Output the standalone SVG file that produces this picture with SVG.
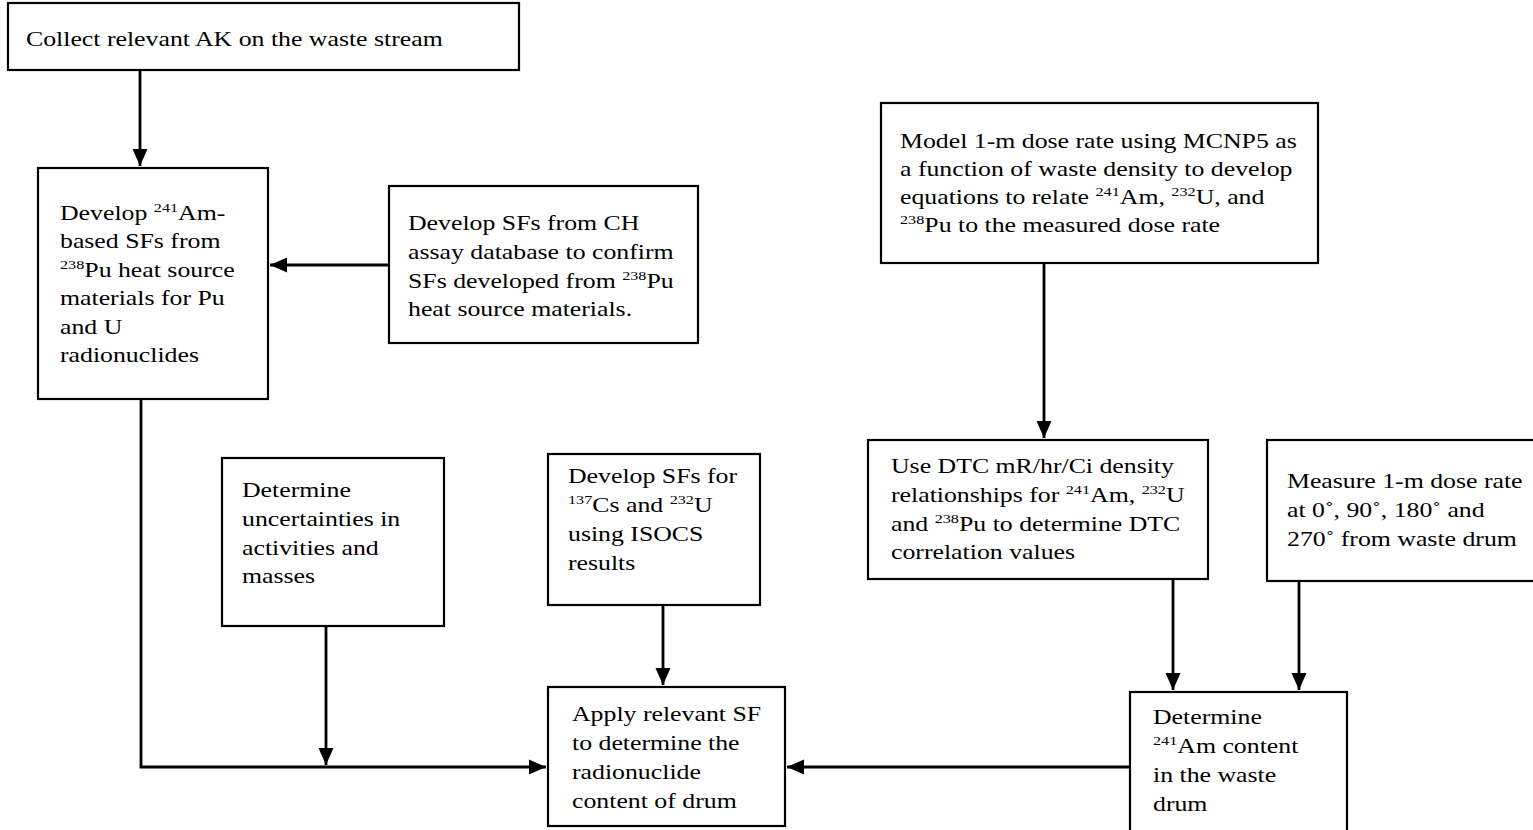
<svg xmlns="http://www.w3.org/2000/svg" width="1533" height="830" viewBox="0 0 1533 830">
<style>
.box{fill:#fff;stroke:#000;stroke-width:2.2}
.t{font-family:"Liberation Serif","Times New Roman",serif;font-size:21.5px;fill:#000}
.sup{font-size:13.5px}
.c{fill:none;stroke:#000;stroke-width:2.8}
</style>
<defs>
<marker id="ah" markerUnits="userSpaceOnUse" markerWidth="18" markerHeight="16" refX="17" refY="8" orient="auto">
<path d="M0,0.5 L17,8 L0,15.5 z" fill="#000"/>
</marker>
</defs>
<rect width="1533" height="830" fill="#fff"/>
<g id="connectors">
<path class="c" d="M140,70 V166" marker-end="url(#ah)"/>
<path class="c" d="M389,265 H270" marker-end="url(#ah)"/>
<path class="c" d="M1044,263 V438" marker-end="url(#ah)"/>
<path class="c" d="M1173,579 V690" marker-end="url(#ah)"/>
<path class="c" d="M1299,581 V690" marker-end="url(#ah)"/>
<path class="c" d="M141,399 V767 H546" marker-end="url(#ah)"/>
<path class="c" d="M326,626 V765" marker-end="url(#ah)"/>
<path class="c" d="M663,605 V685" marker-end="url(#ah)"/>
<path class="c" d="M1130,767 H787" marker-end="url(#ah)"/>
</g>
<g id="n1">
<rect class="box" x="8" y="3" width="511" height="67"/>
<text class="t" transform="translate(26 46) scale(1.2 1)"><tspan x="0" y="0">Collect relevant AK on the waste stream</tspan></text>
</g>
<g id="n2">
<rect class="box" x="38" y="168" width="230" height="231"/>
<text class="t" transform="translate(60 220) scale(1.2 1)">
<tspan x="0" y="0">Develop <tspan class="sup" dy="-8">241</tspan><tspan dy="8">Am-</tspan></tspan>
<tspan x="0" y="28.5">based SFs from</tspan>
<tspan x="0" y="57"><tspan class="sup" dy="-8">238</tspan><tspan dy="8">Pu heat source</tspan></tspan>
<tspan x="0" y="85.5">materials for Pu</tspan>
<tspan x="0" y="114">and U</tspan>
<tspan x="0" y="142.5">radionuclides</tspan>
</text>
</g>
<g id="n3">
<rect class="box" x="389" y="186" width="309" height="157"/>
<text class="t" transform="translate(408 230) scale(1.2 1)">
<tspan x="0" y="0">Develop SFs from CH</tspan>
<tspan x="0" y="28.8">assay database to confirm</tspan>
<tspan x="0" y="57.6">SFs developed from <tspan class="sup" dy="-8">238</tspan><tspan dy="8">Pu</tspan></tspan>
<tspan x="0" y="86.4">heat source materials.</tspan>
</text>
</g>
<g id="n4">
<rect class="box" x="881" y="103" width="437" height="160"/>
<text class="t" transform="translate(900 148) scale(1.2 1)">
<tspan x="0" y="0">Model 1-m dose rate using MCNP5 as</tspan>
<tspan x="0" y="28">a function of waste density to develop</tspan>
<tspan x="0" y="56">equations to relate <tspan class="sup" dy="-8">241</tspan><tspan dy="8">Am, </tspan><tspan class="sup" dy="-8">232</tspan><tspan dy="8">U, and</tspan></tspan>
<tspan x="0" y="84"><tspan class="sup" dy="-8">238</tspan><tspan dy="8">Pu to the measured dose rate</tspan></tspan>
</text>
</g>
<g id="n5">
<rect class="box" x="868" y="440" width="340" height="139"/>
<text class="t" transform="translate(891 473) scale(1.2 1)">
<tspan x="0" y="0">Use DTC mR/hr/Ci density</tspan>
<tspan x="0" y="28.8">relationships for <tspan class="sup" dy="-8">241</tspan><tspan dy="8">Am, </tspan><tspan class="sup" dy="-8">232</tspan><tspan dy="8">U</tspan></tspan>
<tspan x="0" y="57.6">and <tspan class="sup" dy="-8">238</tspan><tspan dy="8">Pu to determine DTC</tspan></tspan>
<tspan x="0" y="86.4">correlation values</tspan>
</text>
</g>
<g id="n6">
<rect class="box" x="1267" y="440" width="280" height="141"/>
<text class="t" transform="translate(1287 488) scale(1.2 1)">
<tspan x="0" y="0">Measure 1-m dose rate</tspan>
<tspan x="0" y="28.8">at 0˚, 90˚, 180˚ and</tspan>
<tspan x="0" y="57.6">270˚ from waste drum</tspan>
</text>
</g>
<g id="n7">
<rect class="box" x="1130" y="692" width="217" height="150"/>
<text class="t" transform="translate(1153 724) scale(1.2 1)">
<tspan x="0" y="0">Determine</tspan>
<tspan x="0" y="29"><tspan class="sup" dy="-8">241</tspan><tspan dy="8">Am content</tspan></tspan>
<tspan x="0" y="58">in the waste</tspan>
<tspan x="0" y="87">drum</tspan>
</text>
</g>
<g id="n8">
<rect class="box" x="222" y="458" width="222" height="168"/>
<text class="t" transform="translate(242 497) scale(1.2 1)">
<tspan x="0" y="0">Determine</tspan>
<tspan x="0" y="28.8">uncertainties in</tspan>
<tspan x="0" y="57.6">activities and</tspan>
<tspan x="0" y="86.4">masses</tspan>
</text>
</g>
<g id="n9">
<rect class="box" x="548" y="454" width="212" height="151"/>
<text class="t" transform="translate(568 483) scale(1.2 1)">
<tspan x="0" y="0">Develop SFs for</tspan>
<tspan x="0" y="29"><tspan class="sup" dy="-8">137</tspan><tspan dy="8">Cs and </tspan><tspan class="sup" dy="-8">232</tspan><tspan dy="8">U</tspan></tspan>
<tspan x="0" y="58">using ISOCS</tspan>
<tspan x="0" y="87">results</tspan>
</text>
</g>
<g id="n10">
<rect class="box" x="548" y="687" width="237" height="139"/>
<text class="t" transform="translate(572 721) scale(1.2 1)">
<tspan x="0" y="0">Apply relevant SF</tspan>
<tspan x="0" y="29">to determine the</tspan>
<tspan x="0" y="58">radionuclide</tspan>
<tspan x="0" y="87">content of drum</tspan>
</text>
</g>
</svg>
